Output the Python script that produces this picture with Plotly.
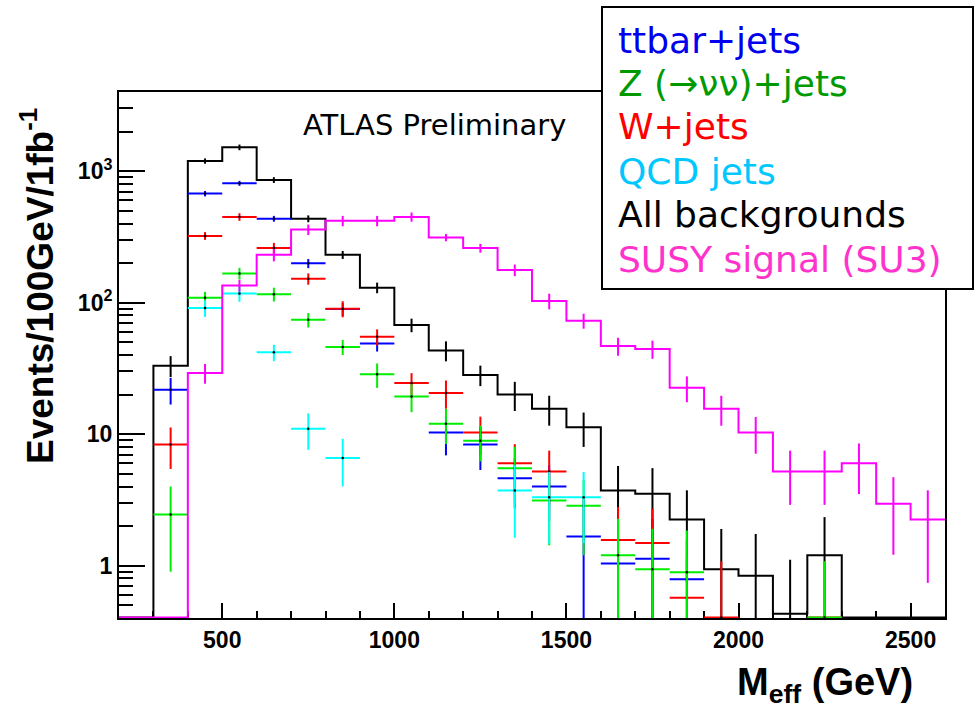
import numpy as np
import plotly.graph_objects as go

# ---------------- data (100 GeV bins, lower edges 200 ... 2500) ----------------
bin_lo = [200, 300, 400, 500, 600, 700, 800, 900, 1000, 1100, 1200, 1300,
          1400, 1500, 1600, 1700, 1800, 1900, 2000, 2100, 2200, 2300, 2400, 2500]
bin_width = 100

all_bkg = [0, 33.2, 1195, 1518, 857, 435, 231, 130, 67.6, 43.3, 28.2, 20.0,
           15.6, 11.3, 3.73, 3.52, 2.24, 0.94, 0.84, 0.43, 1.2, 0, 0, 0]
all_bkg_err = [0, 6, 55, 75, 43, 26, 16, 12, 8, 7.5, 5, 5,
               4, 3.3, 2.0, 2.0, 1.5, 0.96, 0.9, 0.68, 1.14, 0, 0, 0]

susy = [0, 0, 29.2, 135, 231, 360, 419, 419, 449, 313, 260, 177,
        103, 72.9, 46.8, 44.4, 22.5, 15.6, 10.3, 5.2, 5.2, 6.0, 2.96, 2.24]
susy_err = [0, 0, 5, 14, 25, 33, 38, 38, 36, 20, 20, 18,
            14, 9.5, 7.3, 7, 5, 4, 3.2, 2.3, 2.3, 2.5, 1.75, 1.5]

ttbar = [None, 21.8, 675, 809, 435, 199, 89.4, 49, None, 10.3, 8.34, 4.63,
         4.0, 1.67, 1.04, 1.13, 0.79, None, None, None, None, None, None, None]
ttbar_err = [None, 5, 32, 35, 22, 16, 10, 6.5, None, 3.4, 3.0, 1.9,
             1.8, 1.67, 1.04, 1.13, 0.79, None, None, None, None, None, None, None]

wjets = [None, 8.34, 322, 449, 260, 152, 90, 55, 24.5, 20.6, 10.3, 6.0,
         5.2, None, 1.57, 1.49, 0.57, 0, None, None, 0, None, None, None]
wjets_err = [None, 2.9, 22, 30, 25, 15, 12.6, 7.7, 4.6, 5, 3.3, 2.4,
             2.3, None, 1.22, 1.22, 0.57, 1.08, None, None, 0, None, None, None]

zjets = [None, 2.45, 109, 167, 116, 74, 46, 28.5, 19.3, 12.0, 8.9, 5.5,
         3.13, 2.85, 1.2, 0.94, 0.89, None, None, None, 0, None, None, None]
zjets_err = [None, 1.55, 12, 17, 14, 9.3, 6, 6, 4.6, 3.6, 2.7, 2.5,
             1.7, 1.65, 1.07, 0.97, 0.96, None, None, None, 1.08, None, None, None]

qcd = [None, None, 91, 117.5, 41.9, 11.0, 6.6, None, None, None, None, 3.73,
       3.32, 3.32, None, None, None, None, None, None, None, None, None, None]
qcd_err = [None, None, 13, 16, 6, 3.4, 2.6, None, None, None, None, 2.1,
           1.85, 1.84, None, None, None, None, None, None, None, None, None, None]

x_ticks = [500, 1000, 1500, 2000, 2500]
x_minor = [300, 400, 600, 700, 800, 900, 1100, 1200, 1300, 1400, 1600, 1700,
           1800, 1900, 2100, 2200, 2300, 2400]
y_ticks = [1, 10, 100, 1000]
y_ticktext = ["1", "10", "10<sup>2</sup>", "10<sup>3</sup>"]
y_minor = [0.5, 0.6, 0.7, 0.8, 0.9, 2, 3, 4, 5, 6, 7, 8, 9, 20, 30, 40, 50, 60,
           70, 80, 90, 200, 300, 400, 500, 600, 700, 800, 900, 2000, 3000]

YMIN, YMAX = 0.4, 4000
XMIN, XMAX = 200, 2600

legend_items = [("ttbar+jets", "#0000ee"),
                ("Z (\u2192\u03bd\u03bd)+jets", "#009a00"),
                ("W+jets", "#ff0000"),
                ("QCD jets", "#00c8ff"),
                ("All backgrounds", "#000000"),
                ("SUSY signal (SU3)", "#ff33cc")]

# ---------------- helpers ----------------
centers = [b + bin_width / 2 for b in bin_lo]


def step_trace(vals, color):
    v = np.maximum(np.array(vals, dtype=float), YMIN * 1.01)  # empty bins drawn on the frame floor
    xs = list(bin_lo) + [bin_lo[-1] + bin_width]
    ys = list(v) + [v[-1]]
    return go.Scatter(x=xs, y=ys, mode="lines", line=dict(color=color, width=2, shape="hv"),
                      hoverinfo="skip", showlegend=False)


def err_arrays(vals, errs):
    xs, ys, ep, em = [], [], [], []
    for c, v, e in zip(centers, vals, errs):
        if v is None:
            continue
        yp = max(v, YMIN * 1.01)
        top = v + e
        bot = v - e
        xs.append(c)
        ys.append(yp)
        ep.append(max(top - yp, 0))
        em.append(max(yp - max(bot, 0.01), 0) if bot < yp else 0)
    return xs, ys, ep, em


def hist_err_trace(vals, errs, color):
    xs, ys, ep, em = [], [], [], []
    for c, v, e in zip(centers, vals, errs):
        if v is None or v <= 0:
            continue
        xs.append(c)
        ys.append(v)
        ep.append(e)
        em.append(min(e, v - 0.01))
    return go.Scatter(x=xs, y=ys, mode="markers", marker=dict(size=1, color=color, opacity=0),
                      error_y=dict(type="data", symmetric=False, array=ep, arrayminus=em,
                                   color=color, thickness=2, width=0),
                      hoverinfo="skip", showlegend=False)


def cross_trace(vals, errs, color):
    xs, ys, ep, em = err_arrays(vals, errs)
    return go.Scatter(x=xs, y=ys, mode="markers",
                      marker=dict(size=2.5, color="black", line=dict(width=0)),
                      error_x=dict(type="data", array=[bin_width / 2] * len(xs),
                                   color=color, thickness=2, width=0),
                      error_y=dict(type="data", symmetric=False, array=ep, arrayminus=em,
                                   color=color, thickness=2, width=0),
                      hoverinfo="skip", showlegend=False)


fig = go.Figure()
fig.add_trace(step_trace(all_bkg, "black"))
fig.add_trace(hist_err_trace(all_bkg, all_bkg_err, "black"))
fig.add_trace(cross_trace(ttbar, ttbar_err, "#0000ff"))
fig.add_trace(cross_trace(wjets, wjets_err, "#ff0000"))
fig.add_trace(cross_trace(zjets, zjets_err, "#00ee00"))
fig.add_trace(cross_trace(qcd, qcd_err, "#00ffff"))
fig.add_trace(step_trace(susy, "#ff00ff"))
fig.add_trace(hist_err_trace(susy, susy_err, "#ff00ff"))

L, R, T, B = 119, 945, 92, 618
W, H = 974, 711
pw, ph = R - L, B - T


def px(x):
    return (x - L) / pw


def py(y):
    return (B - y) / ph


tickfont = dict(family="Liberation Sans, Arial", size=23, color="black", weight="bold")

fig.update_layout(
    width=W, height=H,
    margin=dict(l=L, r=W - R, t=T, b=H - B),
    paper_bgcolor="white", plot_bgcolor="white",
    showlegend=False,
    xaxis=dict(range=[XMIN, XMAX], tickmode="array", tickvals=x_ticks,
               ticks="inside", ticklen=15, tickwidth=2, tickcolor="black",
               minor=dict(tickmode="array", tickvals=x_minor, ticks="inside", ticklen=7,
                          tickwidth=2, tickcolor="black", showgrid=False),
               showgrid=False, zeroline=False, showline=True, linewidth=2,
               linecolor="black", mirror=True, tickfont=tickfont, layer="below traces"),
    yaxis=dict(type="log", range=[np.log10(YMIN), np.log10(YMAX)], tickmode="array",
               tickvals=y_ticks, ticktext=y_ticktext,
               ticks="inside", ticklen=26, tickwidth=2, tickcolor="black",
               minor=dict(tickmode="array", tickvals=y_minor, ticks="inside", ticklen=14,
                          tickwidth=2, tickcolor="black", showgrid=False),
               showgrid=False, zeroline=False, showline=True, linewidth=2,
               linecolor="black", mirror=True, tickfont=tickfont, layer="below traces"),
)

annotations = []
annotations.append(dict(text="ATLAS Preliminary", xref="paper", yref="paper",
                        x=px(301), y=py(125), xanchor="left", yanchor="middle",
                        showarrow=False,
                        font=dict(family="DejaVu Sans", size=29, color="black")))
annotations.append(dict(text="Events/100GeV/1fb<sup>-1</sup>", xref="paper", yref="paper",
                        x=px(37), y=py(286), xanchor="center", yanchor="middle",
                        textangle=-90, showarrow=False,
                        font=dict(family="Liberation Sans, Arial", size=37, color="black",
                                  weight="bold")))
annotations.append(dict(text="M<sub>eff</sub> (GeV)", xref="paper", yref="paper",
                        x=px(915), y=py(685), xanchor="right", yanchor="middle",
                        showarrow=False,
                        font=dict(family="Liberation Sans, Arial", size=38, color="black",
                                  weight="bold")))

row_centers = [40, 83, 127, 171, 215, 259]
for (label, col), yc in zip(legend_items, row_centers):
    annotations.append(dict(text=label, xref="paper", yref="paper",
                            x=px(616), y=py(yc), xanchor="left", yanchor="middle",
                            showarrow=False,
                            font=dict(family="DejaVu Sans", size=36, color=col)))

fig.update_layout(annotations=annotations)
fig.add_shape(type="rect", xref="paper", yref="paper",
              x0=px(602), x1=px(973), y0=py(289), y1=py(7),
              line=dict(color="black", width=2), fillcolor="white", layer="above")

fig.write_html("out.html")
